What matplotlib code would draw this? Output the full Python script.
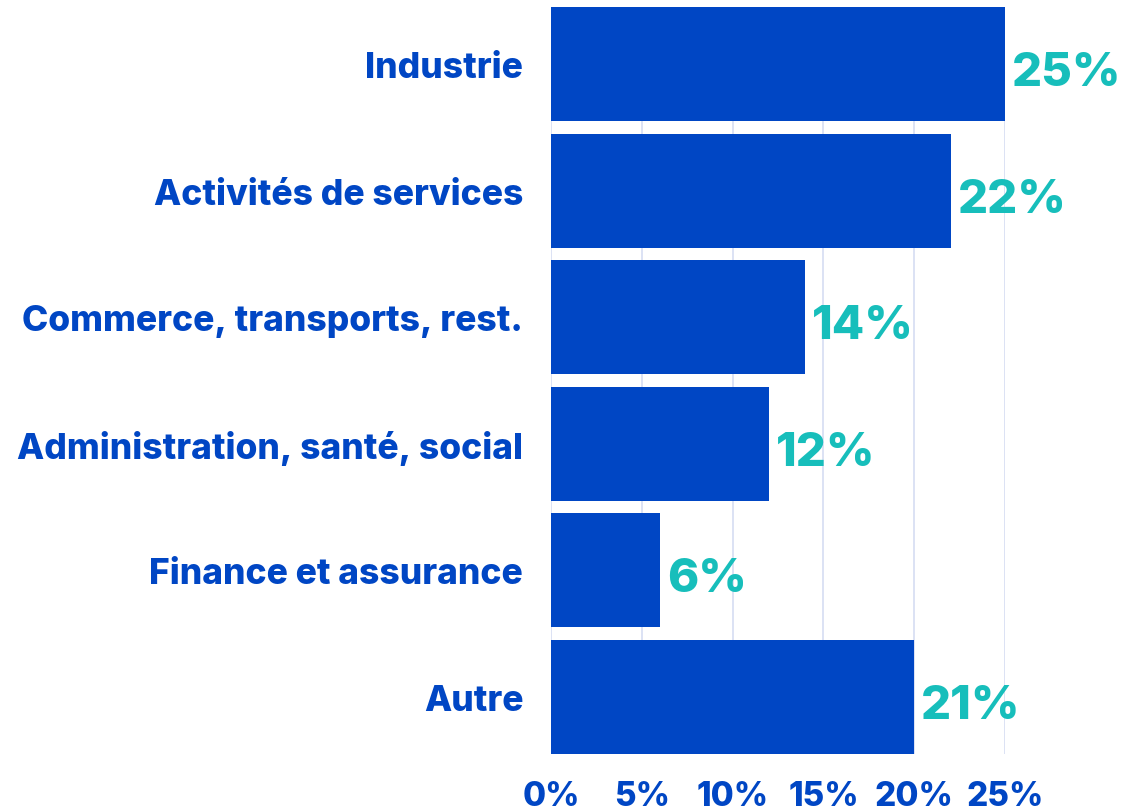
import matplotlib
matplotlib.use("Agg")
import matplotlib.pyplot as plt
from matplotlib.transforms import offset_copy

categories = ["Industrie", "Activités de services", "Commerce, transports, rest.",
              "Administration, santé, social", "Finance et assurance", "Autre"]
values = [25, 22, 14, 12, 6, 20]
value_labels = ["25%", "22%", "14%", "12%", "6%", "21%"]
xticks = [0, 5, 10, 15, 20, 25]

BLUE = "#0046C4"
TEAL = "#17BEBB"
GRID = "#D6DDF2"

plt.rcParams["font.family"] = ["Inter", "DejaVu Sans"]

fig = plt.figure(figsize=(11.45, 8.12), dpi=100)
ax = fig.add_axes([551 / 1145, 1 - 755 / 812, (1005 - 551) / 1145, 747 / 812])

y = list(range(len(categories)))
ax.barh(y, values, height=0.9, color=BLUE, zorder=2)
ax.set_ylim(len(categories) - 0.55, -0.45)
ax.set_xlim(0, 25)

ax.set_xticks(xticks)
ax.set_xticklabels([f"{t}%" for t in xticks])
ax.set_yticks(y)
ax.set_yticklabels(categories)
ax.tick_params(axis="both", length=0, colors=BLUE)
ax.tick_params(axis="y", pad=20)
ax.tick_params(axis="x", pad=19)
for lab in ax.get_yticklabels():
    lab.set_fontsize(25.5)
    lab.set_fontweight("heavy")
for lab in ax.get_xticklabels():
    lab.set_fontsize(24)
    lab.set_fontweight("heavy")

ax.grid(axis="x", color=GRID, linewidth=1.2, zorder=0)
for s in ax.spines.values():
    s.set_visible(False)

trans = offset_copy(ax.transData, fig=fig, x=7, y=-9, units="dots")
for yi, v, lab in zip(y, values, value_labels):
    ax.text(v, yi, lab, transform=trans, color=TEAL, fontsize=34,
            fontweight="heavy", va="center", ha="left", clip_on=False)

fig.savefig("out.png", dpi=100)
